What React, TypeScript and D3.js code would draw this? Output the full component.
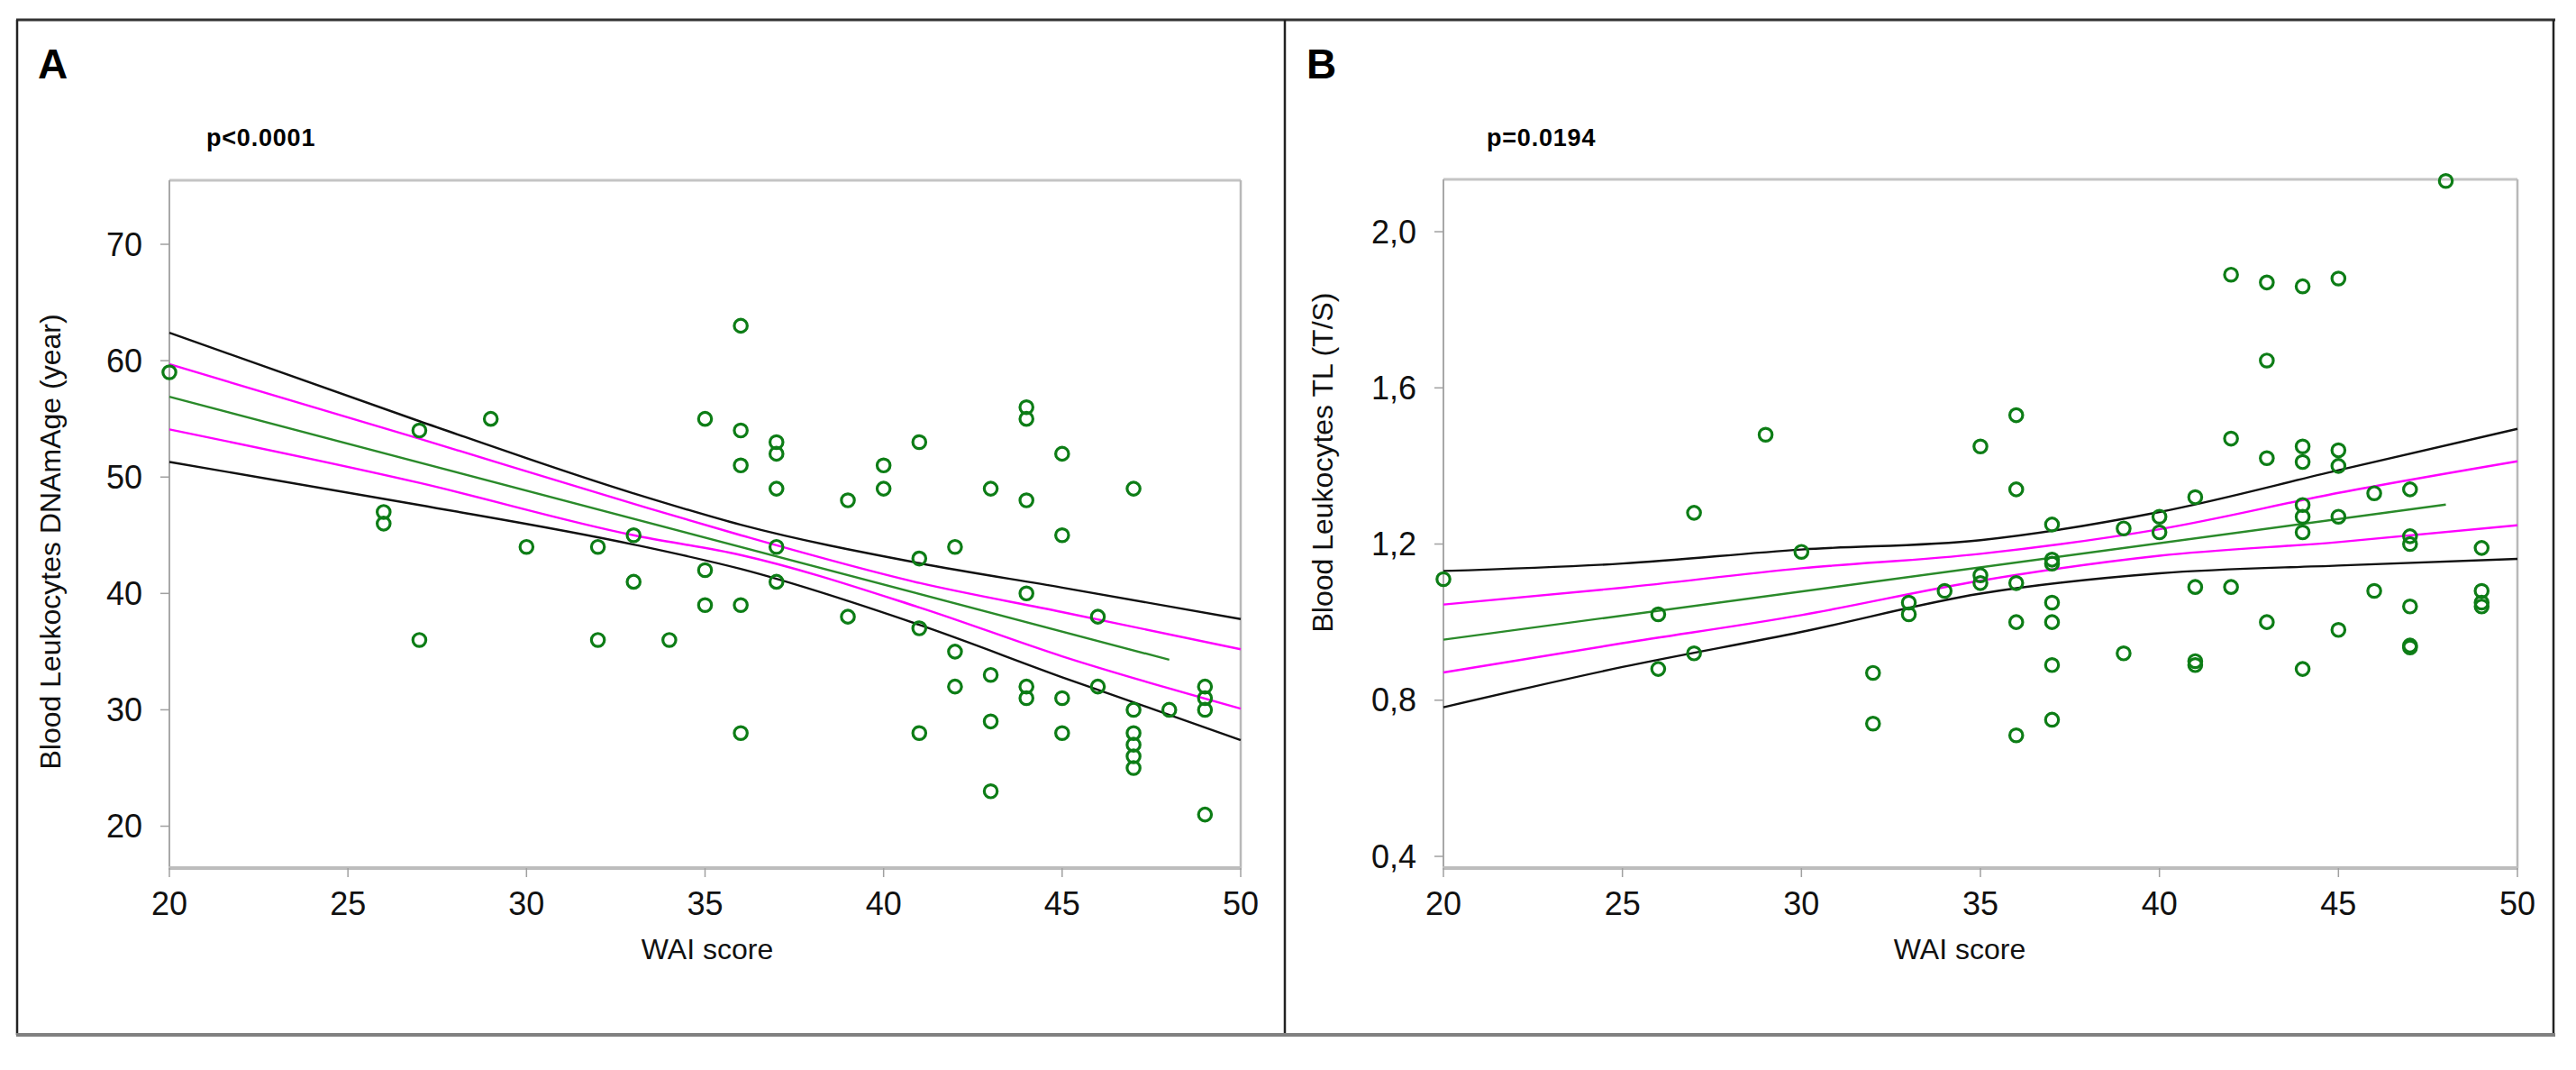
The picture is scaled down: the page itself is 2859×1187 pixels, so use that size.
import * as d3 from "d3";

const W = 2859;
const H = 1187;

const X_TICKS = [20, 25, 30, 35, 40, 45, 50];

// Panel A: WAI score against blood leukocyte DNAmAge.
const A_WAI = [
  20, 26, 26, 27, 27, 29, 30, 32, 32, 33, 33, 34, 35, 35, 35, 36, 36, 36, 36, 36, 37, 37, 37, 37,
  37, 39, 39, 40, 40, 41, 41, 41, 41, 42, 42, 42, 43, 43, 43, 43, 44, 44, 44, 44, 44, 44, 45, 45,
  45, 45, 46, 46, 47, 47, 47, 47, 47, 47, 48, 49, 49, 49, 49,
];
const A_AGE = [
  59, 47, 46, 54, 36, 55, 44, 44, 36, 45, 41, 36, 55, 42, 39, 63, 54, 51, 39, 28, 53, 52, 49, 44,
  41, 48, 38, 51, 49, 53, 43, 37, 28, 44, 35, 32, 49, 33, 29, 23, 56, 55, 48, 40, 32, 31, 52, 45,
  31, 28, 38, 32, 49, 30, 28, 27, 26, 25, 30, 32, 31, 30, 21,
];
const A_Y_TICKS = [20, 30, 40, 50, 60, 70];
const A_FIT_X = [20, 48];
const A_FIT_Y = [56.9, 34.3];
const A_BAND_X = [20, 27, 33, 36, 41, 45, 50];
const A_OUTER_HI = [62.4, 54.8, 48.6, 45.9, 42.6, 40.5, 37.8];
const A_OUTER_LO = [51.3, 47.6, 44.2, 42.1, 37.3, 32.8, 27.4];
const A_INNER_HI = [59.7, 53.3, 47.7, 45.0, 40.9, 38.4, 35.2];
const A_INNER_LO = [54.1, 49.5, 45.0, 43.3, 38.8, 34.6, 30.1];

// Panel B: WAI score against blood leukocyte telomere length.
const B_WAI = [
  20, 26, 26, 27, 27, 29, 30, 32, 32, 33, 33, 34, 35, 35, 35, 36, 36, 36, 36, 36, 37, 37, 37, 37,
  37, 37, 37, 39, 39, 40, 40, 41, 41, 41, 41, 42, 42, 42, 43, 43, 43, 43, 44, 44, 44, 44, 44, 44,
  44, 45, 45, 45, 45, 45, 46, 46, 47, 47, 47, 47, 47, 47, 48, 49, 49, 49, 49,
];
const B_TL = [
  1.11, 1.02, 0.88, 1.28, 0.92, 1.48, 1.18, 0.87, 0.74, 1.05, 1.02, 1.08, 1.45, 1.12, 1.1, 1.53,
  1.34, 1.1, 1.0, 0.71, 1.25, 1.16, 1.15, 1.05, 1.0, 0.89, 0.75, 1.24, 0.92, 1.27, 1.23, 1.32,
  1.09, 0.89, 0.9, 1.89, 1.47, 1.09, 1.87, 1.67, 1.42, 1.0, 1.86, 1.45, 1.41, 1.3, 1.27, 1.23,
  0.88, 1.88, 1.44, 1.4, 1.27, 0.98, 1.33, 1.08, 1.34, 1.22, 1.2, 1.04, 0.94, 0.935, 2.13, 1.19,
  1.08, 1.05, 1.04,
];
const B_Y_TICKS = [0.4, 0.8, 1.2, 1.6, 2.0];
const B_FIT_X = [20, 48];
const B_FIT_Y = [0.955, 1.301];
const B_BAND_X = [20, 25, 30, 35, 40, 45, 50];
const B_OUTER_HI = [1.131, 1.15, 1.186, 1.21, 1.282, 1.389, 1.495];
const B_OUTER_LO = [0.782, 0.885, 0.975, 1.073, 1.125, 1.145, 1.162];
const B_INNER_HI = [1.045, 1.088, 1.138, 1.175, 1.238, 1.331, 1.412];
const B_INNER_LO = [0.871, 0.946, 1.018, 1.106, 1.17, 1.205, 1.248];

const FONT = "'Liberation Sans', Arial, sans-serif";
const GREEN = "#0d7d16";

type PanelProps = {
  letter: string;
  letterX: number;
  pText: string;
  pX: number;
  left: number;
  right: number;
  top: number;
  bottom: number;
  yDomain: [number, number];
  yTicks: number[];
  yFormat: (v: number) => string;
  yTitle: string;
  yTitleX: number;
  yTitleY: number;
  xTitleX: number;
  xs: number[];
  ys: number[];
  fitX: number[];
  fitY: number[];
  bandX: number[];
  outerHi: number[];
  outerLo: number[];
  innerHi: number[];
  innerLo: number[];
};

function Panel(p: PanelProps) {
  const x = d3.scaleLinear().domain([20, 50]).range([p.left, p.right]);
  const y = d3.scaleLinear().domain(p.yDomain).range([p.bottom, p.top]);
  const band = (vals: number[]) =>
    d3
      .line<number>()
      .x((_, i) => x(p.bandX[i]))
      .y((d) => y(d))
      .curve(d3.curveMonotoneX)(vals) ?? "";
  const fit =
    d3
      .line<number>()
      .x((_, i) => x(p.fitX[i]))
      .y((d) => y(d))(p.fitY) ?? "";

  return (
    <g>
      <text x={p.letterX} y={87} fontFamily={FONT} fontWeight="bold" fontSize={46}>
        {p.letter}
      </text>
      <text x={p.pX} y={162} fontFamily={FONT} fontWeight="bold" fontSize={27} letterSpacing={0.8}>
        {p.pText}
      </text>

      {/* plot box */}
      <line x1={p.left} x2={p.right} y1={p.top} y2={p.top} stroke="#c4c4c4" strokeWidth={3} />
      <line x1={p.right} x2={p.right} y1={p.top} y2={p.bottom} stroke="#b8b8b8" strokeWidth={2.5} />
      <line x1={p.left} x2={p.left} y1={p.top} y2={p.bottom} stroke="#a8a8a8" strokeWidth={2} />
      <line x1={p.left - 1} x2={p.right + 1} y1={p.bottom} y2={p.bottom} stroke="#bdbdbd" strokeWidth={4} />

      {p.yTicks.map((t) => (
        <g key={t}>
          <line x1={p.left - 10} x2={p.left} y1={y(t)} y2={y(t)} stroke="#a0a0a0" strokeWidth={1.5} />
          <text
            x={p.left - 30}
            y={y(t)}
            dy="0.35em"
            textAnchor="end"
            fontFamily={FONT}
            fontSize={36}
            fill="#111"
          >
            {p.yFormat(t)}
          </text>
        </g>
      ))}
      {X_TICKS.map((t) => (
        <g key={t}>
          <line x1={x(t)} x2={x(t)} y1={p.bottom} y2={p.bottom + 10} stroke="#a0a0a0" strokeWidth={1.5} />
          <text x={x(t)} y={1015} textAnchor="middle" fontFamily={FONT} fontSize={36} fill="#111">
            {t}
          </text>
        </g>
      ))}
      <text x={p.xTitleX} y={1064} textAnchor="middle" fontFamily={FONT} fontSize={32} fill="#111">
        WAI score
      </text>
      <text
        transform={`translate(${p.yTitleX},${p.yTitleY}) rotate(-90)`}
        textAnchor="middle"
        dy="0.35em"
        fontFamily={FONT}
        fontSize={32}
        fill="#111"
      >
        {p.yTitle}
      </text>

      <path d={band(p.outerHi)} fill="none" stroke="#111" strokeWidth={2.4} />
      <path d={band(p.outerLo)} fill="none" stroke="#111" strokeWidth={2.4} />
      <path d={band(p.innerHi)} fill="none" stroke="#ff00ff" strokeWidth={2.4} />
      <path d={band(p.innerLo)} fill="none" stroke="#ff00ff" strokeWidth={2.4} />
      <path d={fit} fill="none" stroke="#2a8a2a" strokeWidth={2.4} />

      {p.xs.map((v, i) => (
        <circle key={i} cx={x(v)} cy={y(p.ys[i])} r={7.2} fill="none" stroke={GREEN} strokeWidth={3.2} />
      ))}
    </g>
  );
}

export default function App() {
  const comma = (v: number) => d3.format(".1f")(v).replace(".", ",");
  return (
    <svg
      width={W}
      height={H}
      viewBox={`0 0 ${W} ${H}`}
      style={{ position: "absolute", left: 0, top: 0, background: "#fff" }}
    >
      <rect width={W} height={H} fill="#fff" />
      {/* outer frame */}
      <line x1={18} x2={2836} y1={22} y2={22} stroke="#333" strokeWidth={3} />
      <line x1={19} x2={19} y1={22} y2={1148} stroke="#222" strokeWidth={2.5} />
      <line x1={1426} x2={1426} y1={22} y2={1148} stroke="#222" strokeWidth={2.5} />
      <line x1={2834} x2={2834} y1={22} y2={1148} stroke="#222" strokeWidth={2.5} />
      <line x1={18} x2={2836} y1={1148} y2={1148} stroke="#808080" strokeWidth={4} />

      <Panel
        letter="A"
        letterX={42}
        pText="p<0.0001"
        pX={229}
        left={188}
        right={1377}
        top={200}
        bottom={963}
        yDomain={[16.4, 75.5]}
        yTicks={A_Y_TICKS}
        yFormat={(v) => String(v)}
        yTitle="Blood Leukocytes DNAmAge (year)"
        yTitleX={56}
        yTitleY={601}
        xTitleX={785}
        xs={A_WAI}
        ys={A_AGE}
        fitX={A_FIT_X}
        fitY={A_FIT_Y}
        bandX={A_BAND_X}
        outerHi={A_OUTER_HI}
        outerLo={A_OUTER_LO}
        innerHi={A_INNER_HI}
        innerLo={A_INNER_LO}
      />
      <Panel
        letter="B"
        letterX={1450}
        pText="p=0.0194"
        pX={1650}
        left={1602}
        right={2794}
        top={199}
        bottom={963}
        yDomain={[0.37, 2.134]}
        yTicks={B_Y_TICKS}
        yFormat={comma}
        yTitle="Blood Leukocytes TL (T/S)"
        yTitleX={1468}
        yTitleY={513}
        xTitleX={2175}
        xs={B_WAI}
        ys={B_TL}
        fitX={B_FIT_X}
        fitY={B_FIT_Y}
        bandX={B_BAND_X}
        outerHi={B_OUTER_HI}
        outerLo={B_OUTER_LO}
        innerHi={B_INNER_HI}
        innerLo={B_INNER_LO}
      />
    </svg>
  );
}
